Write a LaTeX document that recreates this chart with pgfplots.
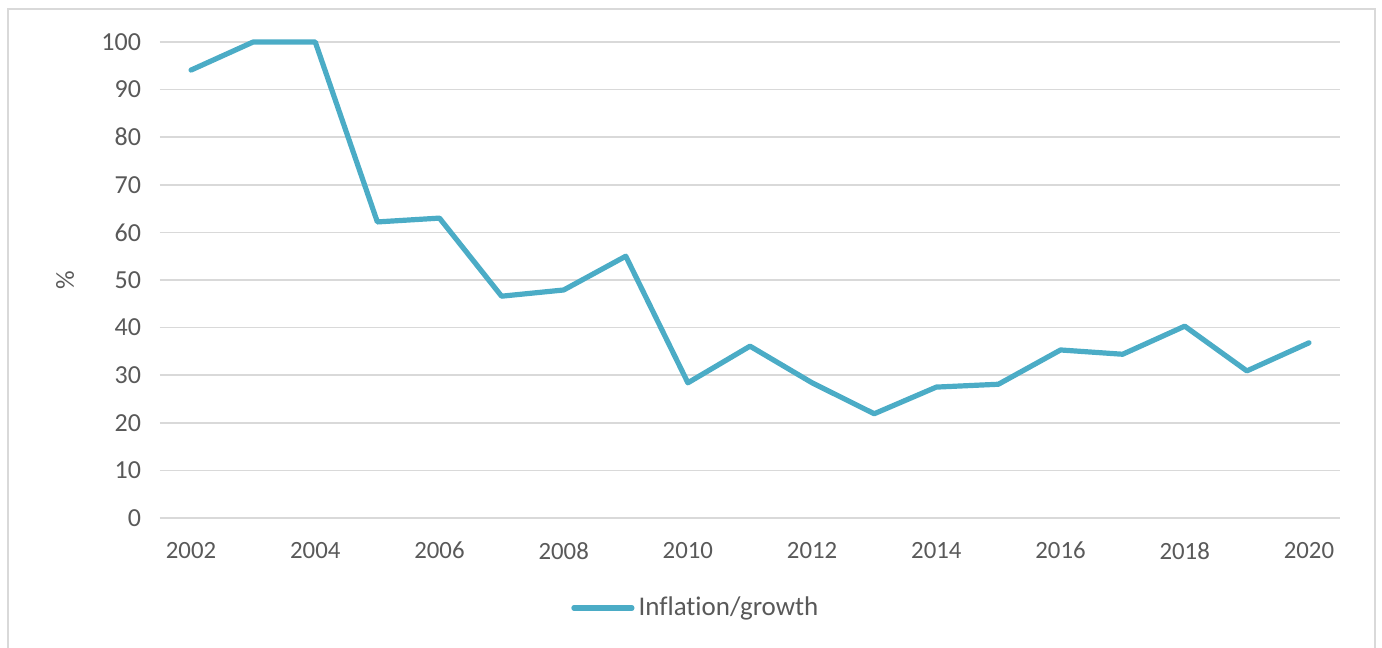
\documentclass[border=0pt]{standalone}
\usepackage{fontspec}
\setmainfont{Carlito}[RawFeature={-liga;-dlig;-calt;-clig}]
\usepackage{pgfplots}
\pgfplotsset{compat=1.18}
\definecolor{lineblue}{RGB}{75,172,198}
\definecolor{gridgray}{RGB}{217,217,217}
\definecolor{textgray}{RGB}{89,89,89}
\begin{document}
\begin{tikzpicture}
\useasboundingbox (0pt,0pt) rectangle (691pt,324pt);
\draw[gridgray, line width=0.8pt] (4pt,-10pt) -- (4pt,319.5pt) -- (687.5pt,319.5pt) -- (687.5pt,-10pt);
\begin{axis}[
  at={(80pt,65pt)}, anchor=south west,
  width=590pt, height=238pt, scale only axis,
  xmin=2001.5, xmax=2020.5, ymin=0, ymax=100,
  xtick={2002,2004,...,2020},
  ytick={0,10,...,100},
  axis line style={draw=none},
  major tick length=0pt,
  ymajorgrids,
  grid style={gridgray, line width=0.8pt},
  clip=false,
  /pgf/number format/assume math mode=true,
  xticklabel style={font=\fontsize{12.4}{14}\selectfont, text=textgray, yshift=-8.5pt},
  yticklabel style={font=\fontsize{13}{15}\selectfont, text=textgray, xshift=-6pt},
  xticklabel={\pgfmathprintnumber[1000 sep={}]{\tick}},
  ylabel={\%},
  ylabel style={at={(rel axis cs:-0.0805,0.5)}, anchor=center, font=\fontsize{13}{15}\selectfont, text=textgray},
  legend style={draw=none, at={(0.455,-0.189)}, anchor=center, font=\fontsize{13.5}{15}\selectfont, text=textgray, inner sep=0pt},
  legend cell align=left,
  legend image code/.code={\draw[lineblue, line width=2.6pt, line cap=round] (0pt,0pt) -- (29pt,0pt);},
]
\addplot[lineblue, line width=2.6pt, line join=round, line cap=round] coordinates {
(2002,94.1) (2003,100) (2004,100) (2005,62.2) (2006,63.0) (2007,46.6) (2008,47.9)
(2009,55.0) (2010,28.4) (2011,36.1) (2012,28.4) (2013,21.9) (2014,27.5) (2015,28.1)
(2016,35.3) (2017,34.4) (2018,40.3) (2019,30.9) (2020,36.8)
};
\addlegendentry{Inflation/growth}
\end{axis}
\end{tikzpicture}
\end{document}
